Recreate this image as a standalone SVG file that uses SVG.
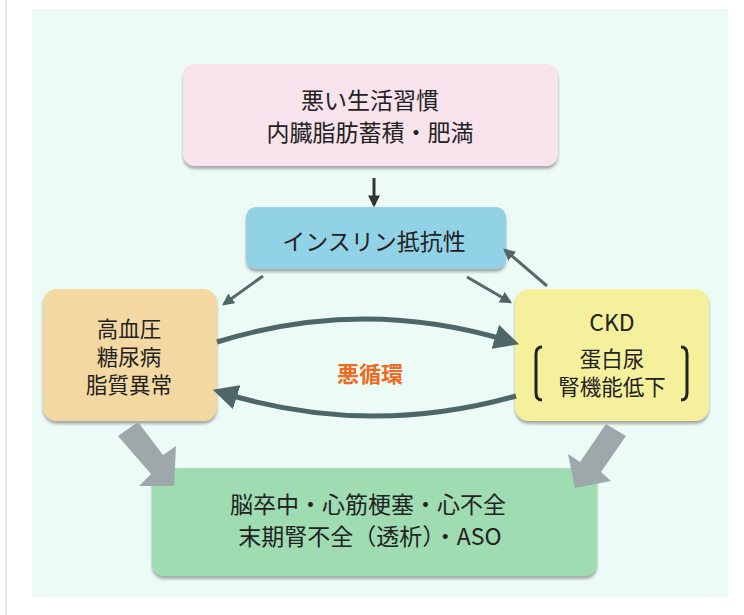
<svg xmlns="http://www.w3.org/2000/svg" width="744" height="615" viewBox="0 0 744 615">
<defs>
<filter id="bevel" x="-10%" y="-10%" width="120%" height="130%">
<feDropShadow dx="0" dy="3" stdDeviation="1.5" flood-color="#6b6b6b" flood-opacity="0.55"/>
</filter>
<marker id="ah" viewBox="0 0 10 10" refX="8" refY="5" markerWidth="4" markerHeight="4" orient="auto" markerUnits="strokeWidth">
<path d="M0,0 L10,5 L0,10 z" fill="#4f6669"/>
</marker>
<marker id="ahd" viewBox="0 0 10 10" refX="8" refY="5" markerWidth="4" markerHeight="4" orient="auto" markerUnits="strokeWidth">
<path d="M0,0 L10,5 L0,10 z" fill="#333"/>
</marker>
<marker id="ahc" viewBox="0 0 10 10" refX="7" refY="5" markerWidth="5" markerHeight="5" orient="auto" markerUnits="strokeWidth">
<path d="M0,0 L10,5 L0,10 z" fill="#4f6669"/>
</marker>
</defs>
<style>
.t{font-family:"Noto Sans CJK JP","Noto Sans",sans-serif;font-size:23px;fill:#222;text-anchor:middle}
.s{font-size:21.5px}
.box{filter:url(#bevel)}
.thin{stroke:#56696b;stroke-width:3;fill:none;marker-end:url(#ah)}
.arc{stroke:#4f6669;stroke-width:5;fill:none;marker-end:url(#ahc)}
.big{fill:#9ea7aa}
</style>
<rect width="744" height="615" fill="#ffffff"/>
<line x1="6" y1="0" x2="6" y2="615" stroke="#e2e2e2" stroke-width="1.5"/>
<rect x="32" y="9" width="696" height="588" fill="#edfbf6"/>

<g id="n-lifestyle">
<rect class="box" x="183" y="64" width="375" height="102" rx="12" fill="#f8e3ec"/>
<text class="t" x="370" y="109">悪い生活習慣</text>
<text class="t" x="370" y="141">内臓脂肪蓄積・肥満</text>
</g>

<g id="n-insulin">
<rect class="box" x="246" y="207" width="260" height="62" rx="10" fill="#92d2e6"/>
<text class="t" x="374" y="250">インスリン抵抗性</text>
</g>

<g id="n-hypertension">
<rect class="box" x="43" y="289" width="174" height="132" rx="14" fill="#f3d9a1"/>
<text class="t s" x="129" y="337">高血圧</text>
<text class="t s" x="129" y="365">糖尿病</text>
<text class="t s" x="129" y="393">脂質異常</text>
</g>

<g id="n-ckd">
<rect class="box" x="515" y="289" width="194" height="132" rx="14" fill="#f5f09c"/>
<text class="t" x="612" y="331">CKD</text>
<text class="t s" x="612" y="367">蛋白尿</text>
<text class="t s" x="612" y="395">腎機能低下</text>
<path d="M542,347 Q536,347 536,354 L536,393 Q536,400 542,400" fill="none" stroke="#222" stroke-width="3"/>
<path d="M681,347 Q687,347 687,354 L687,393 Q687,400 681,400" fill="none" stroke="#222" stroke-width="3"/>
</g>

<g id="n-vicious">
<text x="370" y="382" font-family="'Noto Sans CJK JP','Noto Sans',sans-serif" font-size="22" font-weight="bold" fill="#f26a21" text-anchor="middle">悪循環</text>
</g>

<g id="n-outcome">
<rect class="box" x="152" y="468" width="445" height="108" rx="12" fill="#9fdcb2"/>
<text class="t" x="368" y="513">脳卒中・心筋梗塞・心不全</text>
<text class="t" x="370" y="545">末期腎不全（透析）・ASO</text>
</g>

<g id="connectors">
<line x1="374" y1="178" x2="374" y2="205" stroke="#333" stroke-width="3" fill="none" marker-end="url(#ahd)"/>
<line class="thin" x1="263" y1="276" x2="224" y2="304"/>
<line class="thin" x1="467" y1="277" x2="510" y2="302"/>
<line class="thin" x1="547" y1="286" x2="505" y2="250"/>
<path class="arc" d="M217,342 Q365,296 512,342"/>
<path class="arc" d="M516,396 Q367,438 220,392"/>
<polygon class="big" points="118,436 138,422 163,455 176,446 174,486 139,486 151,474"/>
<polygon class="big" points="606,424 626,436 601,472 611,481 575,488 568,454 580,462"/>
</g>
</svg>
